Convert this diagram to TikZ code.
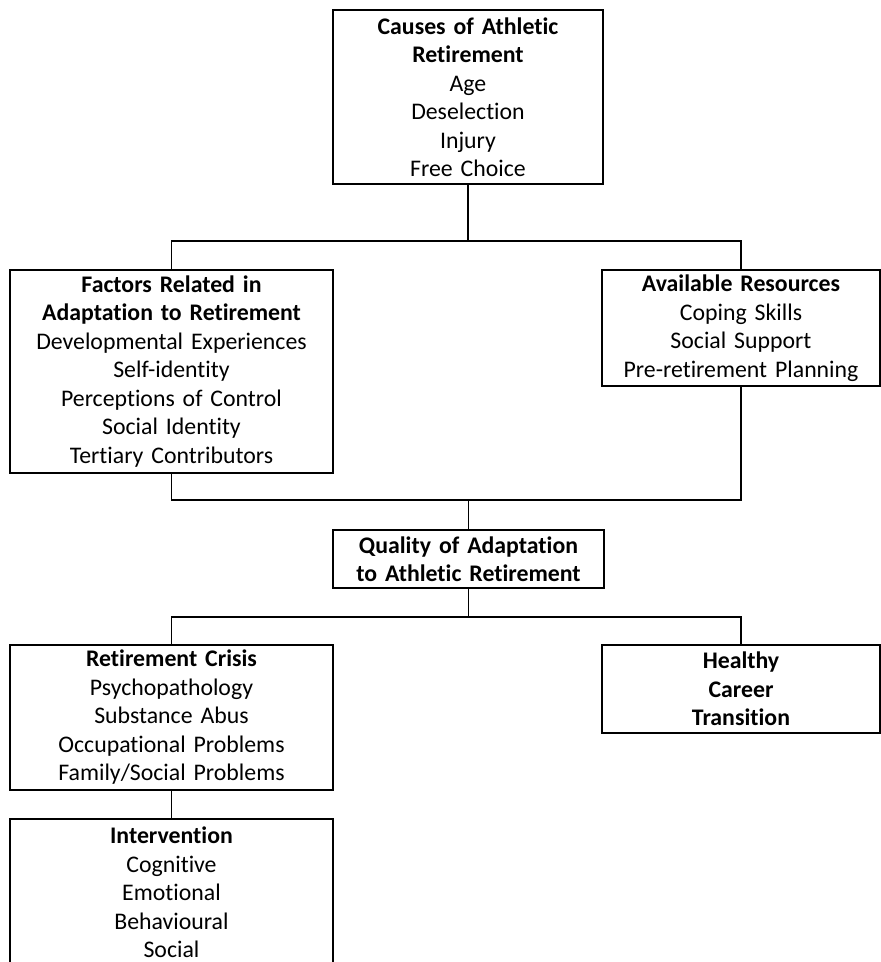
\documentclass[tikz,border=0pt]{standalone}
\usepackage{fontspec}
\setmainfont{Carlito}[Ligatures=NoCommon]
\tikzset{
  box/.style={draw,line width=1.6pt,align=center,inner sep=3pt,
    font=\fontsize{23.8}{28.5}\selectfont},
  link/.style={line width=1.6pt}
}

\begin{document}
\begin{tikzpicture}[x=1pt,y=1pt]
\clip (0,0) rectangle (881,-962);
\node[box,text width=264,minimum height=174] (causes) at (468,-97)
  {\textbf{Causes of Athletic}\\ \textbf{Retirement}\\ Age\\ Deselection\\ Injury\\ Free Choice};
\node[box,text width=317,minimum height=203] (factors) at (171.5,-371.5)
  {\textbf{Factors Related in}\\ \textbf{Adaptation to Retirement}\\ Developmental Experiences\\ Self-identity\\ Perceptions of Control\\ Social Identity\\ Tertiary Contributors};
\node[box,text width=272,minimum height=116] (resources) at (741,-328)
  {\textbf{Available Resources}\\ Coping Skills\\ Social Support\\ Pre-retirement Planning};
\node[box,text width=265,minimum height=58] (quality) at (468.5,-559)
  {\textbf{Quality of Adaptation}\\ \textbf{to Athletic Retirement}};
\node[box,text width=317,minimum height=145] (crisis) at (171.5,-717.5)
  {\textbf{Retirement Crisis}\\ Psychopathology\\ Substance Abus\\ Occupational Problems\\ Family/Social Problems};
\node[box,text width=272,minimum height=88] (healthy) at (741,-689)
  {\textbf{Healthy}\\ \textbf{Career}\\ \textbf{Transition}};
\node[box,text width=317,minimum height=147,anchor=north] (intervention) at (171.5,-818)
  {\textbf{Intervention}\\ Cognitive\\ Emotional\\ Behavioural\\ Social};
\coordinate (j1) at (causes.south |- 0,-241);
\coordinate (j2) at (quality.north |- 0,-500);
\coordinate (j3) at (quality.south |- 0,-617);
\draw[link] (causes.south)--(j1);
\draw[link] (factors.north) |- (j1) -| (resources.north);
\draw[link] (factors.south) |- (j2) -| (resources.south);
\draw[link] (j2)--(quality.north);
\draw[link] (quality.south)--(j3);
\draw[link] (crisis.north) |- (j3) -| (healthy.north);
\draw[link] (crisis.south)--(intervention.north);
\end{tikzpicture}
\end{document}
